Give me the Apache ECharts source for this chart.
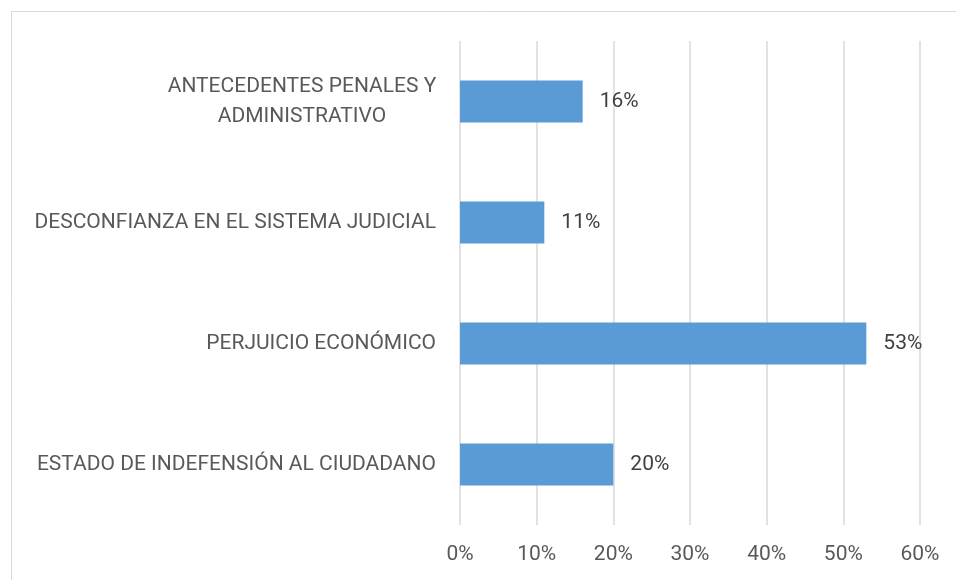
<!DOCTYPE html>
<html>
<head>
<meta charset="utf-8">
<title>chart</title>
<script src="https://cdn.jsdelivr.net/npm/echarts@6/dist/echarts.min.js"></script>
<style>
	html, body { margin: 0; padding: 0; background: #fff; }
	#chart { width: 956px; height: 580px; }
</style>
</head>
<body>
<div id="chart"></div>
<script>
	//categorias (de arriba hacia abajo)
	var categories = [
		'ANTECEDENTES PENALES Y\nADMINISTRATIVO',
		'DESCONFIANZA EN EL SISTEMA JUDICIAL',
		'PERJUICIO ECONÓMICO',
		'ESTADO DE INDEFENSIÓN AL CIUDADANO'
	];
	//porcentajes
	var values = [16, 11, 53, 20];
	//eje x
	var xMin = 0;
	var xMax = 60;
	var xStep = 10;

	var myChart = echarts.init(document.getElementById('chart'));

	var font = 'Roboto, "Liberation Sans", sans-serif';

	var option = {
		backgroundColor: '#ffffff',
		animation: false,
		//borde del area del grafico
		graphic: [{
			type: 'rect',
			shape: { x: 11.5, y: 11.5, width: 1200, height: 1200 },
			style: { fill: 'none', stroke: '#d9d9d9', lineWidth: 1 },
			silent: true
		}],
		grid: {
			left: 460,
			right: 36,
			top: 41,
			bottom: 55,
			containLabel: false
		},
		xAxis: {
			type: 'value',
			min: xMin,
			max: xMax,
			interval: xStep,
			axisLine: { show: false },
			axisTick: { show: false },
			splitLine: {
				lineStyle: { color: '#d9d9d9', width: 1.5 }
			},
			axisLabel: {
				margin: 19,
				color: '#595959',
				fontFamily: font,
				fontSize: 21,
				formatter: function(v) {
					return v + '%';
				}
			}
		},
		yAxis: {
			type: 'category',
			inverse: true,
			data: categories,
			axisLine: { show: false },
			axisTick: { show: false },
			axisLabel: {
				margin: 24,
				color: '#595959',
				fontFamily: font,
				fontSize: 21,
				lineHeight: 30,
				formatter: function(v) {
					//etiqueta de dos lineas centrada
					if(v.indexOf('\n') >= 0) {
						return '{c|' + v.split('\n').join('}\n{c|') + '}';
					}
					return v;
				},
				rich: {
					c: {
						width: 268,
						align: 'center',
						color: '#595959',
						fontFamily: font,
						fontSize: 21,
						lineHeight: 30
					}
				}
			}
		},
		series: [{
			type: 'bar',
			data: values,
			barWidth: 42,
			itemStyle: { color: '#5b9bd5' },
			label: {
				show: true,
				position: 'right',
				distance: 17,
				color: '#404040',
				fontFamily: font,
				fontSize: 21,
				formatter: '{c}%'
			}
		}]
	};
	myChart.setOption(option);
</script>
</body>
</html>
